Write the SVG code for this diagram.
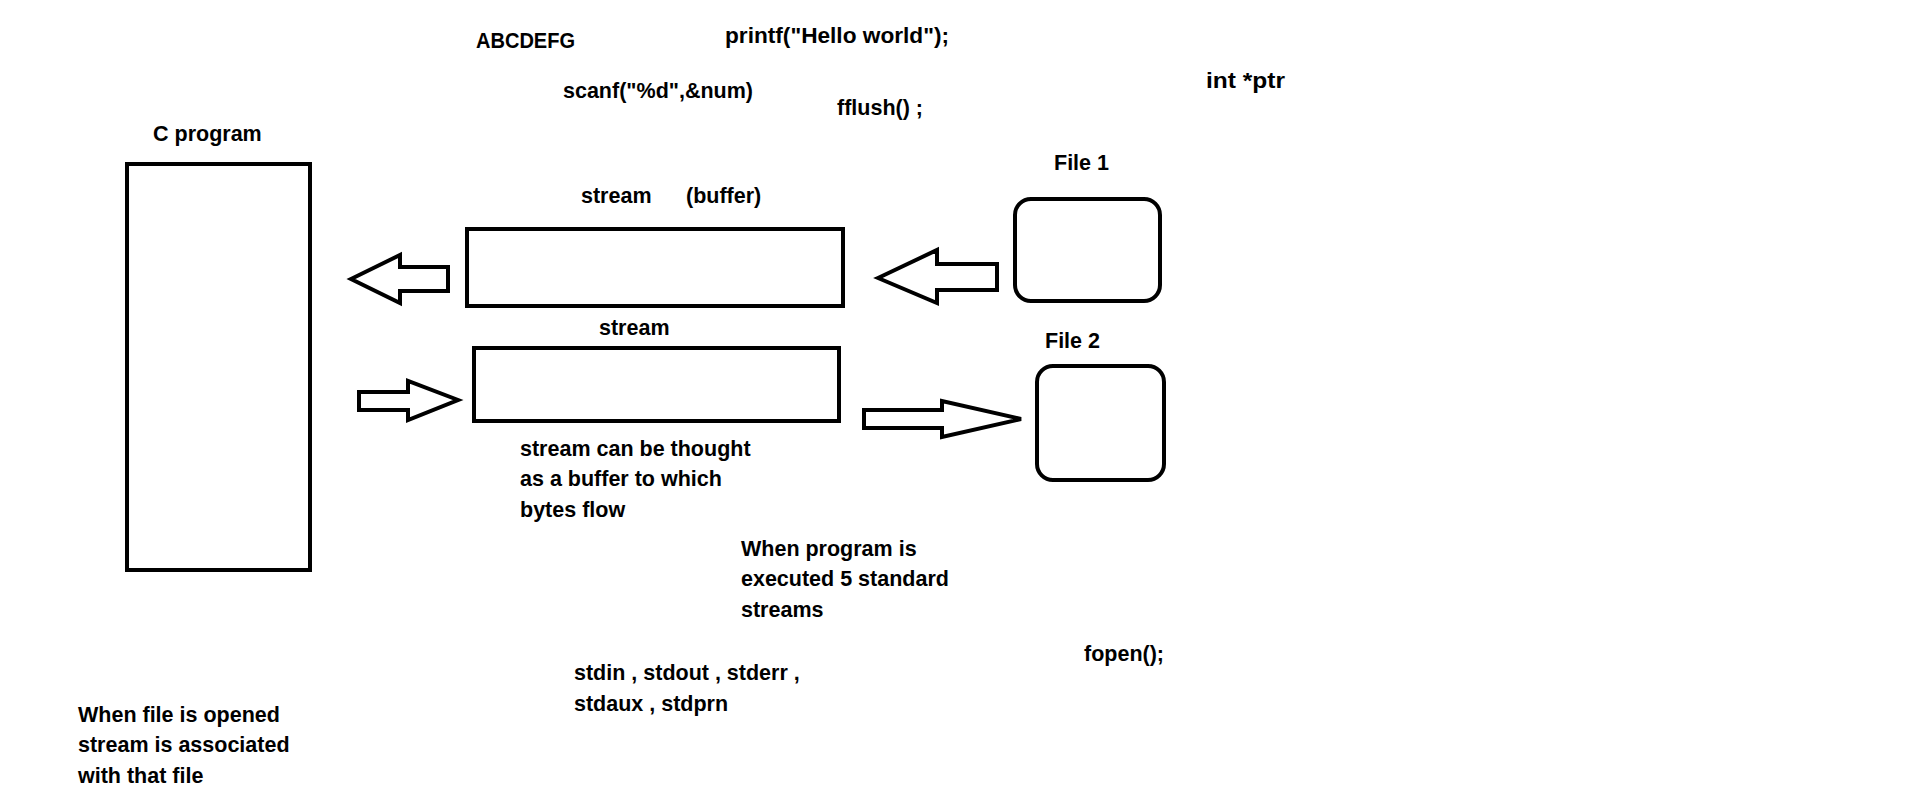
<svg xmlns="http://www.w3.org/2000/svg" width="1914" height="809" viewBox="0 0 1914 809">
<style>
.t{font-family:"Liberation Sans",Arial,sans-serif;font-weight:bold;font-size:21.5px;fill:#000}
.box{fill:none;stroke:#000;stroke-width:4}
.arr{fill:#fff;stroke:#000;stroke-width:4;stroke-linejoin:miter}
</style>
<rect width="1914" height="809" fill="#fff"/>
<g id="cprogram">
<text class="t" x="153" y="141">C program</text>
<rect class="box" x="127" y="164" width="183" height="406"/>
</g>
<g id="buffer1">
<text class="t" x="581" y="203">stream</text>
<text class="t" x="686" y="203">(buffer)</text>
<rect class="box" x="467" y="229" width="376" height="77"/>
</g>
<g id="buffer2">
<text class="t" x="599" y="335">stream</text>
<rect class="box" x="474" y="348" width="365" height="73"/>
</g>
<g id="file1">
<text class="t" x="1054" y="170">File 1</text>
<rect class="box" x="1015" y="199" width="145" height="102" rx="16"/>
</g>
<g id="file2">
<text class="t" x="1045" y="348">File 2</text>
<rect class="box" x="1037" y="366" width="127" height="114" rx="16"/>
</g>
<g id="connectors">
<polygon class="arr" points="351,279 400,255 400,267 448,267 448,291 400,291 400,303"/>
<polygon class="arr" points="359,392 408,392 408,381 458,400 408,420 408,410 359,410"/>
<polygon class="arr" points="878,278 937,250 937,264 997,264 997,290 937,290 937,303"/>
<polygon class="arr" points="864,410 942,410 942,401 1021,419 942,437 942,428 864,428"/>
</g>
<g id="notes">
<text class="t" x="476" y="48" textLength="99" lengthAdjust="spacingAndGlyphs">ABCDEFG</text>
<text class="t" x="725" y="43" textLength="224" lengthAdjust="spacingAndGlyphs">printf("Hello world");</text>
<text class="t" x="563" y="98">scanf("%d",&amp;num)</text>
<text class="t" x="837" y="115">fflush() ;</text>
<text class="t" x="1206" y="88" textLength="79" lengthAdjust="spacingAndGlyphs">int *ptr</text>
<text class="t" x="520" y="456">stream can be thought</text>
<text class="t" x="520" y="486">as a buffer to which</text>
<text class="t" x="520" y="517">bytes flow</text>
<text class="t" x="741" y="556">When program is</text>
<text class="t" x="741" y="586">executed 5 standard</text>
<text class="t" x="741" y="617">streams</text>
<text class="t" x="574" y="680">stdin , stdout , stderr ,</text>
<text class="t" x="574" y="711">stdaux , stdprn</text>
<text class="t" x="1084" y="661">fopen();</text>
<text class="t" x="78" y="722">When file is opened</text>
<text class="t" x="78" y="752">stream is associated</text>
<text class="t" x="78" y="783">with that file</text>
</g>
</svg>
